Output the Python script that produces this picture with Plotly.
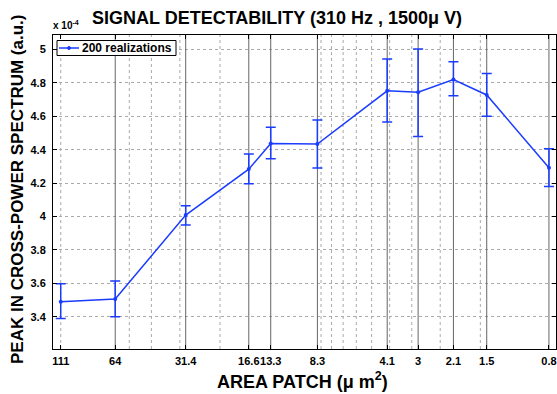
import math
import plotly.graph_objects as go

# ---- data (peak values in units of 1e-4) ----
area = [111, 64, 31.4, 16.6, 13.3, 8.3, 4.1, 3, 2.1, 1.5, 0.8]
tick_labels = ["111", "64", "31.4", "16.6", "13.3", "8.3", "4.1", "3", "2.1", "1.5", "0.8"]
peak = [3.49, 3.506, 4.009, 4.284, 4.437, 4.434, 4.753, 4.744, 4.82, 4.728, 4.292]
err_hi = [3.598, 3.614, 4.064, 4.374, 4.535, 4.578, 4.943, 5.003, 4.927, 4.857, 4.406]
err_lo = [3.39, 3.40, 3.95, 4.196, 4.346, 4.29, 4.566, 4.48, 4.723, 4.60, 4.18]
minor_grid = [111, 55.5, 44.4, 33.3, 22.2, 8, 7.2, 6.4, 5.6, 4.8, 4.0, 3.2, 2.4, 1.6]
solid_grid = [64, 31.4, 16.6, 13.3, 8.3, 4.1, 3, 2.1, 1.5, 0.8]
y_ticks = [3.4, 3.6, 3.8, 4.0, 4.2, 4.4, 4.6, 4.8, 5.0]
y_tick_labels = ["3.4", "3.6", "3.8", "4", "4.2", "4.4", "4.6", "4.8", "5"]

Y_MIN, Y_MAX = 3.207, 5.087
X_LEFT, X_RIGHT = 120.0, 0.745
BLUE = "#1a3cff"
FONT = "Liberation Sans, Arial, sans-serif"

def vlines(vals):
    xs, ys = [], []
    for v in vals:
        xs += [v, v, None]
        ys += [Y_MIN, Y_MAX, None]
    return xs, ys

fig = go.Figure()

mx, my = vlines(minor_grid)
fig.add_trace(go.Scatter(x=mx, y=my, mode="lines", hoverinfo="skip", showlegend=False,
                         line=dict(color="#aaaaaa", width=1, dash="dot")))
sx, sy = vlines(solid_grid)
fig.add_trace(go.Scatter(x=sx, y=sy, mode="lines", hoverinfo="skip", showlegend=False,
                         line=dict(color="#666666", width=1)))

fig.add_trace(go.Scatter(
    x=area, y=peak, mode="lines+markers", name="200 realizations", showlegend=False,
    line=dict(color=BLUE, width=1.5),
    marker=dict(color=BLUE, size=4),
    error_y=dict(type="data", symmetric=False,
                 array=[h - p for h, p in zip(err_hi, peak)],
                 arrayminus=[p - l for p, l in zip(peak, err_lo)],
                 color=BLUE, thickness=1.5, width=5),
))

W, H = 557, 394
L, R, T, B = 53, 1, 35, 45
pw, ph = W - L - R, H - T - B

def px(x):
    return (x - L) / pw

def py(y):
    return (H - B - y) / ph

fig.update_layout(
    width=W, height=H,
    margin=dict(l=L, r=R, t=T, b=B),
    paper_bgcolor="white", plot_bgcolor="white",
    font=dict(family=FONT, color="black"),
    showlegend=False,
    xaxis=dict(type="log", range=[math.log10(X_LEFT), math.log10(X_RIGHT)],
               tickvals=area, ticktext=tick_labels, tickangle=0,
               tickfont=dict(size=11, weight="bold", family=FONT),
               ticks="inside", ticklen=4, tickcolor="black", ticklabelstandoff=2,
               showgrid=False, zeroline=False, automargin=False,
               showline=True, linecolor="black", linewidth=1, mirror="ticks"),
    yaxis=dict(range=[Y_MIN, Y_MAX], tickvals=y_ticks, ticktext=y_tick_labels,
               tickfont=dict(size=11, weight="bold", family=FONT),
               ticks="inside", ticklen=4, tickcolor="black", ticklabelstandoff=4,
               showgrid=True, gridcolor="#aaaaaa", griddash="dot", gridwidth=1,
               zeroline=False, automargin=False,
               showline=True, linecolor="black", linewidth=1, mirror="ticks"),
)

# legend (drawn manually to match the compact MATLAB legend)
fig.add_shape(type="rect", xref="paper", yref="paper",
              x0=px(57), x1=px(176), y0=py(55.5), y1=py(40.5),
              line=dict(color="black", width=1), fillcolor="white")
fig.add_shape(type="line", xref="paper", yref="paper",
              x0=px(59), x1=px(79), y0=py(48), y1=py(48),
              line=dict(color=BLUE, width=1.5))
fig.add_shape(type="circle", xref="paper", yref="paper",
              x0=px(67.5), x1=px(70.5), y0=py(49.5), y1=py(46.5),
              line=dict(color=BLUE, width=1), fillcolor=BLUE)
fig.add_annotation(xref="paper", yref="paper", x=px(80), y=py(48),
                   xanchor="left", yanchor="middle", showarrow=False,
                   text="<b>200 realizations</b>", font=dict(size=12, family=FONT))

# titles
fig.add_annotation(xref="paper", yref="paper", x=px(277), y=py(18),
                   xanchor="center", yanchor="middle", showarrow=False,
                   text="<b>SIGNAL DETECTABILITY (310 Hz , 1500μ V)</b>",
                   font=dict(size=18, family=FONT))
fig.add_annotation(xref="paper", yref="paper", x=px(302), y=py(380),
                   xanchor="center", yanchor="middle", showarrow=False,
                   text="<b>AREA PATCH (μ m<sup>2</sup>)</b>",
                   font=dict(size=18, family=FONT))
fig.add_annotation(xref="paper", yref="paper", x=px(17), y=py(190),
                   xanchor="center", yanchor="middle", showarrow=False, textangle=-90,
                   text="<b>PEAK IN CROSS-POWER SPECTRUM (a.u.)</b>",
                   font=dict(size=17, family=FONT))
fig.add_annotation(xref="paper", yref="paper", x=px(51), y=py(25),
                   xanchor="left", yanchor="middle", showarrow=False,
                   text="<b>x 10<sup>-4</sup></b>",
                   font=dict(size=10, family=FONT))

fig.write_html("out.html")
